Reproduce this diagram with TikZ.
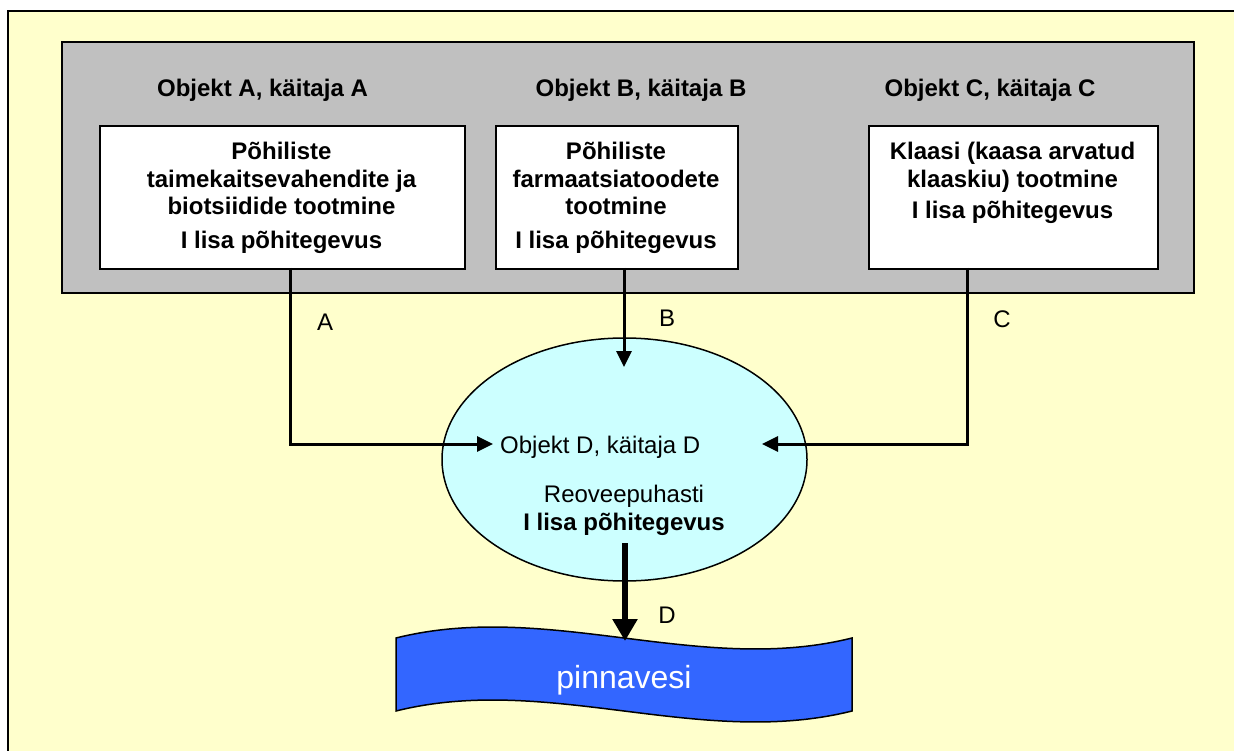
\documentclass[tikz,border=0pt]{standalone}
\usepackage{fontspec}
\setmainfont{Liberation Sans}
\usetikzlibrary{shapes.geometric,arrows.meta}
\definecolor{bgyellow}{HTML}{FFFFCC}
\definecolor{panelgray}{HTML}{C0C0C0}
\definecolor{plantcyan}{HTML}{CCFFFF}
\definecolor{waterblue}{HTML}{3366FF}
\begin{document}
\begin{tikzpicture}[x=1pt,y=-1pt,
  panel/.style={draw=black,line width=2pt,fill=panelgray,anchor=north west,inner sep=0pt},
  proc/.style={draw=black,line width=2pt,fill=white,anchor=north west,inner sep=0pt,minimum height=143pt},
  title/.style={font=\bfseries\fontsize{24}{28}\selectfont,anchor=base,inner sep=0pt},
  boxtext/.style={font=\bfseries\fontsize{24}{27.5}\selectfont,align=center,anchor=north,inner sep=0pt},
  lbl/.style={font=\fontsize{24}{28}\selectfont,inner sep=0pt},
  conn/.style={line width=3pt,-{Triangle[length=16pt,width=15pt]}},
  bigconn/.style={line width=6pt,-{Triangle[length=22pt,width=24pt]}},
  plant/.style={ellipse,draw=black,line width=1.5pt,fill=plantcyan,inner sep=0pt,minimum width=365pt,minimum height=243pt}
]
\useasboundingbox (0,0) rectangle (1234,751);
\fill[white] (0,0) rectangle (1234,751);
\fill[bgyellow] (8,11) rectangle (1234,751);
\draw[line width=2pt] (8,751) -- (8,11) -- (1234,11);
\node[panel,minimum width=1132pt,minimum height=251pt] (panel) at (61,41) {};
\node[proc,minimum width=365pt] (boxA) at (99,125) {};
\node[proc,minimum width=242pt] (boxB) at (495,125) {};
\node[proc,minimum width=289pt] (boxC) at (868,125) {};

\node[title] (titA) at (262.5,97) {Objekt A, käitaja A};
\node[title] (titB) at (641,97) {Objekt B, käitaja B};
\node[title] (titC) at (990,97) {Objekt C, käitaja C};

\node[boxtext] (txtA) at (281.5,142) {Põhiliste\\taimekaitsevahendite ja\\biotsiidide tootmine\\[6pt]I lisa põhitegevus};
\node[boxtext] (txtB) at (616,142) {Põhiliste\\farmaatsiatoodete\\tootmine\\[6pt]I lisa põhitegevus};
\node[boxtext] (txtC) at (1012.5,142) {Klaasi (kaasa arvatud\\klaaskiu) tootmine\\[4pt]I lisa põhitegevus};

\node[plant] (plant) at (624.5,459.5) {};
\node[lbl,anchor=base west] (objD) at (500,453) {Objekt D, käitaja D};
\node[lbl,anchor=base] (reo) at (624,502) {Reoveepuhasti};
\node[lbl,anchor=base,font=\bfseries\fontsize{24}{28}\selectfont] (lisaD) at (624,530) {I lisa põhitegevus};

\coordinate (aStart) at (290,268);
\coordinate (aEnd) at (493,444);
\coordinate (bStart) at (624,268);
\coordinate (bEnd) at (624,367);
\coordinate (cStart) at (967,268);
\coordinate (cEnd) at (762,444);
\coordinate (dStart) at (625,543);
\coordinate (dEnd) at (625,641);

\draw[conn] (aStart) |- (aEnd);
\draw[conn] (bStart) -- (bEnd);
\draw[conn] (cStart) |- (cEnd);

\node[lbl] (lA) at (325,322) {A};
\node[lbl] (lB) at (667,318) {B};
\node[lbl] (lC) at (1002,319) {C};
\node[lbl] (lD) at (667,615) {D};

\draw[line width=1.5pt,fill=waterblue] (396,638) .. controls (548,600) and (700,676) .. (852,638) -- (852,711) .. controls (700,749) and (548,673) .. (396,711) -- cycle;
\node[lbl,anchor=base,text=white,font=\fontsize{32}{36}\selectfont] (water) at (624,688) {pinnavesi};

\draw[bigconn] (dStart) -- (dEnd);
\end{tikzpicture}
\end{document}
